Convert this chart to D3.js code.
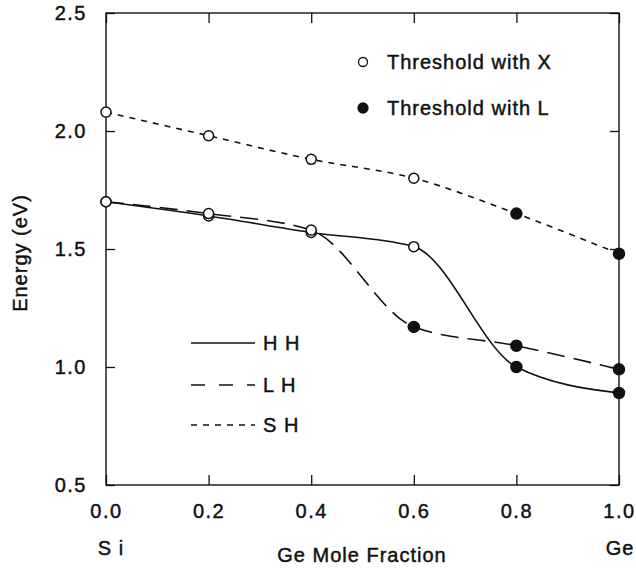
<!DOCTYPE html>
<html>
<head>
<meta charset="utf-8">
<script src="https://cdn.jsdelivr.net/npm/d3@7"></script>
<style>
  body { margin: 0; background: #fff; }
  svg { display: block; font-family: "Liberation Sans", Arial, Helvetica, sans-serif; }
  .lbl { font-size: 20px; letter-spacing: 1px; fill: #111; stroke: #111; stroke-width: 0.45px; }
  .tick text { font-size: 20px; letter-spacing: 1.5px; fill: #111; stroke: #111; stroke-width: 0.45px; }
</style>
</head>
<body>
<svg id="chart" width="636" height="569"></svg>
<script>
// 能量阈值随 Ge 组分变化：HH / LH / SH 三条平滑曲线，空心点为 X 阈值，实心点为 L 阈值。

const fractions = [0.0, 0.2, 0.4, 0.6, 0.8, 1.0];
const hhValues = [1.70, 1.64, 1.57, 1.51, 1.00, 0.89];
const lhValues = [1.70, 1.65, 1.58, 1.17, 1.09, 0.99];
const shValues = [2.08, 1.98, 1.88, 1.80, 1.65, 1.48];
// 每个点对应的阈值类型：X 为空心，L 为实心
const hhThreshold = ['X', 'X', 'X', 'X', 'L', 'L'];
const lhThreshold = ['X', 'X', 'X', 'L', 'L', 'L'];
const shThreshold = ['X', 'X', 'X', 'X', 'L', 'L'];
const xTicks = [0.0, 0.2, 0.4, 0.6, 0.8, 1.0];
const yTicks = [0.5, 1.0, 1.5, 2.0, 2.5];

const margin = { top: 13, right: 17, bottom: 84, left: 106 };
const width = 636 - margin.left - margin.right;
const height = 569 - margin.top - margin.bottom;

const svg = d3.select('#chart');
const g = svg.append('g').attr('transform', `translate(${margin.left},${margin.top})`);

const x = d3.scaleLinear().domain([0, 1]).range([0, width]);
const y = d3.scaleLinear().domain([0.5, 2.5]).range([height, 0]);

// 边框
g.append('rect')
  .attr('width', width)
  .attr('height', height)
  .attr('fill', 'none')
  .attr('stroke', '#111')
  .attr('stroke-width', 1.4);

// 坐标轴（刻度向内）
const xAxis = g.append('g')
  .attr('transform', `translate(0,${height})`)
  .call(d3.axisBottom(x).tickValues(xTicks).tickFormat(d3.format('.1f')).tickSize(-10).tickPadding(27));
g.append('g')
  .call(d3.axisLeft(y).tickValues(yTicks).tickFormat(d3.format('.1f')).tickSize(-9).tickPadding(19));
g.append('g')
  .call(d3.axisTop(x).tickValues(xTicks).tickFormat('').tickSize(-10));
g.append('g')
  .attr('transform', `translate(${width},0)`)
  .call(d3.axisRight(y).tickValues(yTicks).tickFormat('').tickSize(-9));

g.selectAll('.domain').remove();
g.selectAll('.tick line').attr('stroke', '#111').attr('stroke-width', 1.3);
xAxis.selectAll('.tick text').attr('dy', '0.32em');

// 轴标题
svg.append('text')
  .attr('class', 'lbl')
  .attr('transform', 'translate(27,253) rotate(-90)')
  .attr('text-anchor', 'middle')
  .text('Energy (eV)');
svg.append('text')
  .attr('class', 'lbl')
  .attr('x', 362)
  .attr('y', 562)
  .attr('text-anchor', 'middle')
  .text('Ge Mole Fraction');
svg.append('text')
  .attr('class', 'lbl')
  .attr('x', margin.left + 5)
  .attr('y', 555)
  .attr('text-anchor', 'middle')
  .text('S i');
svg.append('text')
  .attr('class', 'lbl')
  .attr('x', margin.left + width + 1)
  .attr('y', 555)
  .attr('text-anchor', 'middle')
  .text('Ge');

const series = [
  { name: 'H H', values: hhValues, types: hhThreshold, dash: null },
  { name: 'L H', values: lhValues, types: lhThreshold, dash: '18,9' },
  { name: 'S H', values: shValues, types: shThreshold, dash: '6,6' },
];

const line = d3.line()
  .x(d => x(d.f))
  .y(d => y(d.v))
  .curve(d3.curveMonotoneX);

series.forEach(s => {
  const pts = fractions.map((f, i) => ({ f, v: s.values[i], t: s.types[i] }));
  g.append('path')
    .datum(pts)
    .attr('d', line)
    .attr('fill', 'none')
    .attr('stroke', '#111')
    .attr('stroke-width', 1.6)
    .attr('stroke-dasharray', s.dash);
  s.points = pts;
});

// 数据点画在曲线之上
series.forEach(s => {
  g.selectAll(null)
    .data(s.points)
    .join('circle')
    .attr('cx', d => x(d.f))
    .attr('cy', d => y(d.v))
    .attr('r', d => (d.t === 'L' ? 5.5 : 5))
    .attr('fill', d => (d.t === 'L' ? '#111' : '#fff'))
    .attr('stroke', '#111')
    .attr('stroke-width', 1.5);
});

// 图例：阈值类型
const markerLegend = svg.append('g').attr('transform', 'translate(363,0)');
[{ t: 'X', label: 'Threshold with X', cy: 62 }, { t: 'L', label: 'Threshold with L', cy: 108 }]
  .forEach(item => {
    markerLegend.append('circle')
      .attr('cx', 0)
      .attr('cy', item.cy)
      .attr('r', item.t === 'L' ? 5 : 4.5)
      .attr('fill', item.t === 'L' ? '#111' : '#fff')
      .attr('stroke', '#111')
      .attr('stroke-width', 1.3);
    markerLegend.append('text')
      .attr('class', 'lbl')
      .attr('x', 24)
      .attr('y', item.cy)
      .attr('dy', '0.35em')
      .text(item.label);
  });

// 图例：曲线类型
const lineLegend = svg.append('g').attr('transform', 'translate(191,0)');
const legendY = [343, 385, 425];
series.forEach((s, i) => {
  lineLegend.append('line')
    .attr('x1', 0)
    .attr('x2', 64)
    .attr('y1', legendY[i])
    .attr('y2', legendY[i])
    .attr('stroke', '#111')
    .attr('stroke-width', 1.4)
    .attr('stroke-dasharray', i === 1 ? '14,14' : s.dash);
  lineLegend.append('text')
    .attr('class', 'lbl')
    .attr('x', 72)
    .attr('y', legendY[i])
    .attr('dy', '0.35em')
    .text(s.name);
});
</script>
</body>
</html>
